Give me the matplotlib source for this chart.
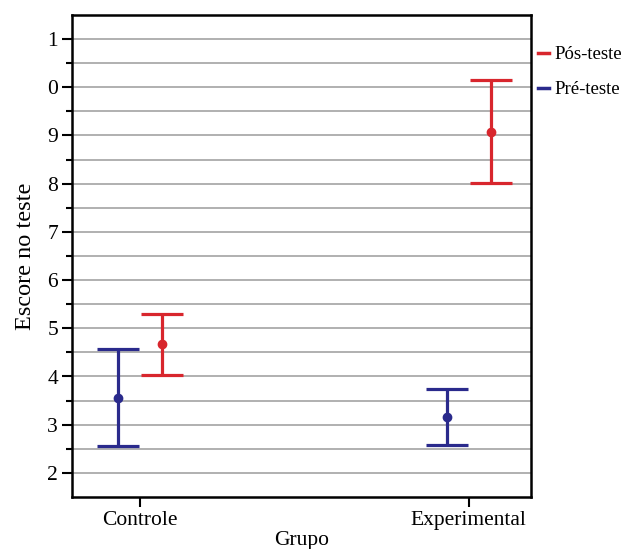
import matplotlib.pyplot as plt
import numpy as np
from matplotlib.lines import Line2D

plt.rcParams['font.family'] = ['Liberation Serif', 'DejaVu Serif']

grupos = ['Controle', 'Experimental']
pre_media = [3.55, 3.17]
pre_inf = [2.55, 2.58]
pre_sup = [4.58, 3.75]
pos_media = [4.67, 9.08]
pos_inf = [4.03, 8.02]
pos_sup = [5.30, 10.15]

ytick_vals = [2, 3, 4, 5, 6, 7, 8, 9, 10, 11]
ytick_labels = ['2', '3', '4', '5', '6', '7', '8', '9', '0', '1']

azul = '#2a2a8c'
vermelho = '#d8262d'

fig = plt.figure(figsize=(6.23, 5.49), dpi=100)
ax = fig.add_axes([72 / 623, 52 / 549, 459 / 623, 482 / 549])

x = np.arange(len(grupos))
off = 0.067

def barras(xs, media, inf, sup, cor, rotulo):
    media = np.array(media)
    err = [media - np.array(inf), np.array(sup) - media]
    ax.errorbar(xs, media, yerr=err, fmt='o', color=cor, ecolor=cor,
                elinewidth=2.3, capsize=15, capthick=2.3, markersize=6,
                label=rotulo, zorder=3)

barras(x + off, pos_media, pos_inf, pos_sup, vermelho, 'Pós-teste')
barras(x - off, pre_media, pre_inf, pre_sup, azul, 'Pré-teste')

ax.set_xlim(-0.207, 1.19)
ax.set_ylim(1.5, 11.5)
ax.set_xticks(x)
ax.set_xticklabels(grupos, fontsize=15.5)
ax.set_yticks(ytick_vals)
ax.set_yticklabels(ytick_labels, fontsize=15.5)
ax.set_yticks(np.arange(2.5, 11.5, 1), minor=True)

for v in np.arange(2, 11.01, 0.5):
    ax.axhline(v, color='#b0b0b0', lw=1.4, zorder=1)

ax.tick_params(axis='both', which='major', direction='out', length=7, width=1.5, pad=3)
ax.tick_params(axis='y', which='minor', direction='out', length=4, width=1.5)
for s in ax.spines.values():
    s.set_linewidth(1.8)

ax.set_ylabel('Escore no teste', fontsize=17.5, labelpad=8)
ax.set_xlabel('Grupo', fontsize=15.5, labelpad=1)

handles = [Line2D([], [], color=vermelho, lw=2.5),
           Line2D([], [], color=azul, lw=2.5)]
fig.legend(handles, ['Pós-teste', 'Pré-teste'], loc='upper left',
           bbox_to_anchor=(538 / 623, 1 - 46 / 549), frameon=False,
           handlelength=0.6, handletextpad=0.3, labelspacing=0.95, fontsize=13.5,
           borderaxespad=0, borderpad=0)

plt.savefig('out.png', dpi=100)
